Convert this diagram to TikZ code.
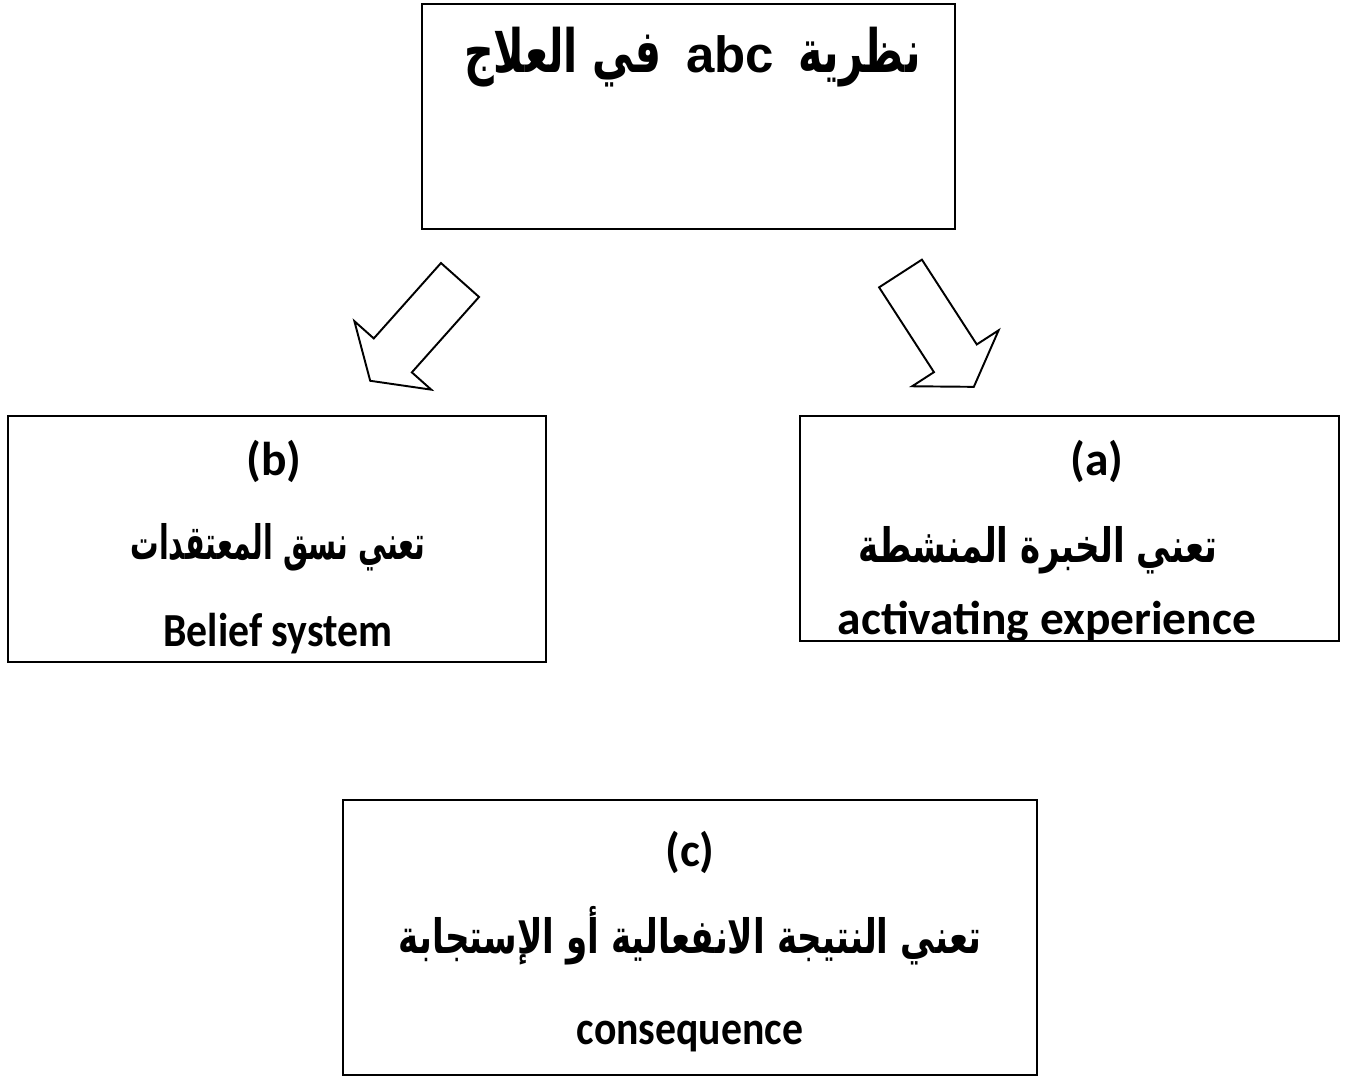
\documentclass[tikz,border=0pt]{standalone}
\usepackage{fontspec}
\setmainfont{Carlito}
\newfontfamily\narrowfont[FakeStretch=0.88]{Carlito}
\newfontfamily\arabicfont[Script=Arabic, FakeStretch=0.72]{DejaVu Sans}
\newfontfamily\arabicnarrow[Script=Arabic, FakeStretch=0.6]{DejaVu Sans}
\newfontfamily\titlefont[Script=Arabic, FakeStretch=0.69]{DejaVu Sans}
\newfontfamily\arialfont{Liberation Sans}
\TeXXeTstate=1

\begin{document}
\begin{tikzpicture}[x=0.02cm, y=-0.02cm,
        box/.style={draw, line width=1.1pt, inner sep=0pt},
        txt/.style={inner sep=0pt, font=\bfseries\fontsize{27}{32}\selectfont},
        artxt/.style={inner sep=0pt, font=\bfseries\fontsize{27}{32}\selectfont},
        blockarrow/.style={draw, line width=1.1pt, line join=miter}]
        \useasboundingbox (0,0) rectangle (1352,1077);
        % ABC theory boxes
        \node[box, minimum width=10.66cm, minimum height=4.5cm] (theory) at (688.5,116.5) {};
        \node[box, minimum width=10.76cm, minimum height=4.92cm] (belief) at (277,539) {};
        \node[box, minimum width=10.78cm, minimum height=4.5cm] (activ) at (1069.5,528.5) {};
        \node[box, minimum width=13.88cm, minimum height=5.5cm] (conseq) at (690,937.5) {};

        \node[anchor=base east, inner sep=0pt, font=\bfseries\fontsize{34}{38}\selectfont] (title) at (921,73)
            {\titlefont\beginR نظرية\hspace{0.5cm}\beginL{\arialfont\fontsize{29}{34}\selectfont abc}\endL\hspace{0.5cm}في العلاج\endR};

        % block arrows from the theory box
        \coordinate (ltail) at (460,280);
        \coordinate (rtail) at (900.5,273.5);
        \foreach \tail/\angle in {ltail/228.3, rtail/-57.1} {
            \draw[blockarrow, shift={(\tail)}, rotate=\angle]
                (0,25.5) -- (101,25.5) -- (101,51.5) -- (135,0) -- (101,-51.5) -- (101,-25.5) -- (0,-25.5) -- cycle;
        }

        % (b)
        \node[txt, anchor=base] (btag) at (274,476) {(b)};
        \node[artxt, anchor=base] (bar) at (278,560) {\arabicnarrow\beginR تعني نسق المعتقدات\endR};
        \node[txt, anchor=base] (ben) at (278,646) {\narrowfont Belief system};

        % (a)
        \node[txt, anchor=base] (atag) at (1097,476) {(a)};
        \node[artxt, anchor=base] (aar) at (1038,562) {\arabicfont\beginR تعني الخبرة المنشطة\endR};
        \begin{scope}
            \clip (activ.south west) rectangle (activ.north east);
            \node[txt, anchor=base] (aen) at (1047,634) {activating experience};
        \end{scope}

        % (c)
        \node[txt, anchor=base] (ctag) at (690,866) {(c)};
        \node[artxt, anchor=base] (car) at (690,953) {\arabicfont\beginR تعني النتيجة الانفعالية أو الإستجابة\endR};
        \node[txt, anchor=base] (cen) at (690,1044) {\narrowfont consequence};
    \end{tikzpicture}
\end{document}
